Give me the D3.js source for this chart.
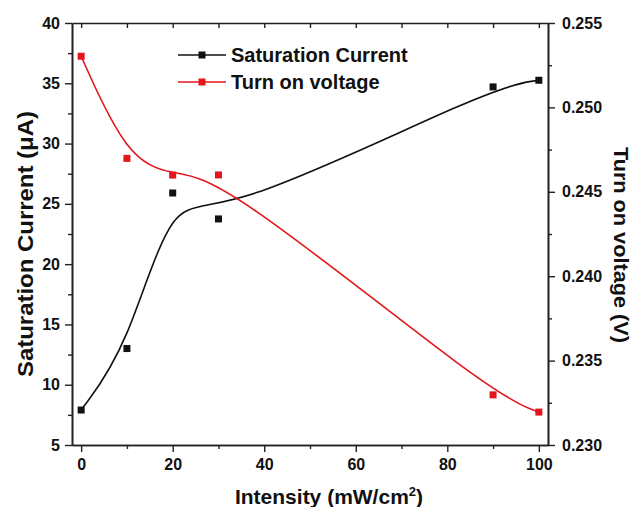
<!DOCTYPE html>
<html>
<head>
<meta charset="utf-8">
<script src="https://cdn.jsdelivr.net/npm/d3@7"></script>
<style>
  body { margin: 0; background: #fff; }
  svg { display: block; font-family: "Liberation Sans", Arial, sans-serif; }
</style>
</head>
<body>
<div id="chart"></div>
<script>
const W = 633, H = 507;
const margin = { top: 23, right: 85, bottom: 62, left: 72 };

// data
const intensity = [0, 10, 20, 30, 90, 100];
const satCurrent = [7.9, 13.0, 25.9, 23.75, 34.7, 35.25];
const turnOnV = [0.25303, 0.24698, 0.24599, 0.246, 0.23297, 0.23195];

const xTicks = [0, 20, 40, 60, 80, 100];
const yLeftTicks = [5, 10, 15, 20, 25, 30, 35, 40];
const yRightTicks = [0.230, 0.235, 0.240, 0.245, 0.250, 0.255];

const BLACK = "#111";
const RED = "#e2161b";

const svg = d3.select("#chart").append("svg").attr("width", W).attr("height", H);

const x = d3.scaleLinear().domain([-2, 102]).range([margin.left, W - margin.right]);
const yL = d3.scaleLinear().domain([5, 40]).range([H - margin.bottom, margin.top]);
const yR = d3.scaleLinear().domain([0.230, 0.255]).range([H - margin.bottom, margin.top]);

const axisColor = "#222";
const tickFont = "bold 16px 'Liberation Sans', Arial, sans-serif";

function styleAxis(g) {
  g.select(".domain").attr("stroke", axisColor).attr("stroke-width", 1.6);
  g.selectAll(".tick line").attr("stroke", axisColor).attr("stroke-width", 1.4);
  g.selectAll(".tick text").style("font", tickFont).attr("fill", "#111");
}

// minor ticks
const xMinor = d3.range(10, 100, 20);
const yLMinor = d3.range(7.5, 40, 5);
const yRMinor = d3.range(0.2325, 0.255, 0.005);

// bottom axis
svg.append("g")
  .attr("transform", `translate(0,${H - margin.bottom})`)
  .call(d3.axisBottom(x).tickValues(xMinor).tickSize(4).tickFormat("").tickSizeOuter(0))
  .call(styleAxis);
svg.append("g")
  .attr("transform", `translate(0,${H - margin.bottom})`)
  .call(d3.axisBottom(x).tickValues(xTicks).tickSize(7).tickPadding(7).tickSizeOuter(0))
  .call(styleAxis);

// top axis (inward ticks)
svg.append("g")
  .attr("transform", `translate(0,${margin.top})`)
  .call(d3.axisTop(x).tickValues(xTicks.concat(xMinor)).tickSize(-5).tickFormat("").tickSizeOuter(0))
  .call(styleAxis);

// left axis
svg.append("g")
  .attr("transform", `translate(${margin.left},0)`)
  .call(d3.axisLeft(yL).tickValues(yLMinor).tickSize(4).tickFormat("").tickSizeOuter(0))
  .call(styleAxis);
svg.append("g")
  .attr("transform", `translate(${margin.left},0)`)
  .call(d3.axisLeft(yL).tickValues(yLeftTicks).tickSize(7).tickPadding(5).tickSizeOuter(0))
  .call(styleAxis);

// right axis
svg.append("g")
  .attr("transform", `translate(${W - margin.right},0)`)
  .call(d3.axisRight(yR).tickValues(yRMinor).tickSize(4).tickFormat("").tickSizeOuter(0))
  .call(styleAxis);
svg.append("g")
  .attr("transform", `translate(${W - margin.right},0)`)
  .call(d3.axisRight(yR).tickValues(yRightTicks).tickSize(7).tickPadding(7).tickFormat(d3.format(".3f")).tickSizeOuter(0))
  .call(styleAxis);

// B-spline connecting lines
const satData = intensity.map((d, i) => [d, satCurrent[i]]);
const vData = intensity.map((d, i) => [d, turnOnV[i]]);

svg.append("path")
  .datum(satData)
  .attr("fill", "none").attr("stroke", BLACK).attr("stroke-width", 1.6)
  .attr("d", d3.line().x(d => x(d[0])).y(d => yL(d[1])).curve(d3.curveBasis));

svg.append("path")
  .datum(vData)
  .attr("fill", "none").attr("stroke", RED).attr("stroke-width", 1.6)
  .attr("d", d3.line().x(d => x(d[0])).y(d => yR(d[1])).curve(d3.curveBasis));

const S = 7;
svg.append("g").selectAll("rect")
  .data(satData).join("rect")
  .attr("x", d => x(d[0]) - S / 2).attr("y", d => yL(d[1]) - S / 2)
  .attr("width", S).attr("height", S).attr("fill", BLACK);

svg.append("g").selectAll("rect")
  .data(vData).join("rect")
  .attr("x", d => x(d[0]) - S / 2).attr("y", d => yR(d[1]) - S / 2)
  .attr("width", S).attr("height", S).attr("fill", RED);

// legend
const legend = [
  { label: "Saturation Current", color: BLACK },
  { label: "Turn on voltage", color: RED }
];
legend.forEach((l, i) => {
  const cy = 55 + i * 27;
  const g = svg.append("g");
  g.append("line").attr("x1", 178).attr("x2", 226).attr("y1", cy).attr("y2", cy)
    .attr("stroke", l.color).attr("stroke-width", 1.6);
  g.append("rect").attr("x", 202 - S / 2).attr("y", cy - S / 2)
    .attr("width", S).attr("height", S).attr("fill", l.color);
  g.append("text").attr("x", 231).attr("y", cy + 7)
    .style("font-size", "20px").style("font-weight", "bold").attr("fill", "#111")
    .text(l.label);
});

// axis titles
const xt = svg.append("text")
  .attr("x", 329).attr("y", 504)
  .attr("text-anchor", "middle")
  .style("font-size", "21px").style("font-weight", "bold").attr("fill", "#111");
xt.append("tspan").text("Intensity (mW/cm");
xt.append("tspan").attr("dy", -8).style("font-size", "13px").text("2");
xt.append("tspan").attr("dy", 8).text(")");

svg.append("text")
  .attr("transform", `translate(33,244) rotate(-90)`)
  .attr("text-anchor", "middle")
  .attr("textLength", 266).attr("lengthAdjust", "spacingAndGlyphs")
  .style("font-size", "22px").style("font-weight", "bold").attr("fill", "#111")
  .text("Saturation Current (μA)");

svg.append("text")
  .attr("transform", `translate(614,245) rotate(90)`)
  .attr("text-anchor", "middle")
  .attr("textLength", 196).attr("lengthAdjust", "spacingAndGlyphs")
  .style("font-size", "21px").style("font-weight", "bold").attr("fill", "#111")
  .text("Turn on voltage (V)");
</script>
</body>
</html>
